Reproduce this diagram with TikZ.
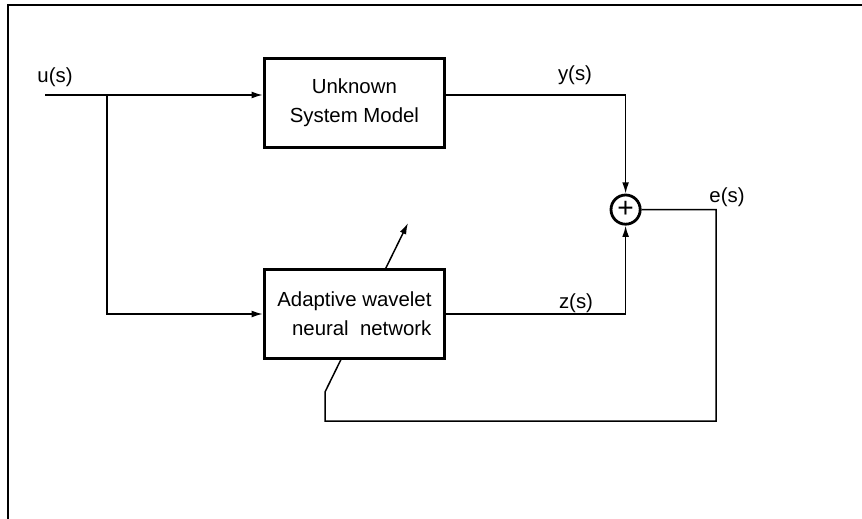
\documentclass[tikz,border=0pt]{standalone}
\usepackage{fontspec}
\setmainfont{Liberation Sans}
\usetikzlibrary{positioning, arrows.meta, backgrounds}

\begin{document}
\begin{tikzpicture}
    [
        x=1mm, y=1mm, node distance=52.75mm and 67.8mm, on grid,
        >={Latex[length=2.8mm, width=1.7mm]},
        block_node/.style={rectangle, draw=black, fill=white, line width=0.75mm, minimum width=45mm, minimum height=22.25mm, inner sep=1mm, font=\fontsize{14.5}{20.5}\selectfont},
        sum_node/.style={circle, draw=black, fill=white, line width=0.7mm, minimum size=7.3mm, inner sep=0mm, font=\fontsize{20}{20}\selectfont},
        signal_label/.style={font=\fontsize{14.5}{17}\selectfont, inner sep=0mm},
        wire/.style={line width=0.375mm, color=black},
    ]
        \useasboundingbox (0,0) rectangle (215.5,-129.75);
        \draw[line width=0.5mm] (2,-129.75) -- (2,-1.25) -- (215.5,-1.25);
        \node[block_node, align=center] (plant) at (88.6,-25.75) {Unknown\\System Model};
        \node[block_node, align=right] (awnn) [below = of plant] {Adaptive wavelet\\neural\ \ network};
        \node[sum_node] (sum) at (156.4,-52.4) {+};
        \coordinate (in) at (11.25,-23.75);
        \coordinate (split) at (26.75,-23.75);
        \coordinate (fb_corner) at (179,-105.25);
        \coordinate (fb_kink) at (81.25,-98);
        \coordinate (adapt_tip) at (102,-55.75);
        \node[signal_label] (u_lbl) at (13.75,-19.25) {u(s)};
        \node[signal_label] (y_lbl) at (143.75,-18.75) {y(s)};
        \node[signal_label] (e_lbl) at (181.75,-49.25) {e(s)};
        \node[signal_label] (z_lbl) at (144,-75.75) {z(s)};
        \draw[->, wire] (in) -- (plant.west |- in) ;
        \draw[->, wire] (split) |- (awnn.west) ;
        \draw[->, wire] (plant.east |- in) -| (sum.north) ;
        \draw[->, wire] (awnn.east) -| (sum.south) ;
        \begin{pgfonlayer}{background}
            \draw[->, wire] (sum.east) -| (fb_corner) -| (fb_kink) -- (adapt_tip) ;
        \end{pgfonlayer}
    \end{tikzpicture}
\end{document}
